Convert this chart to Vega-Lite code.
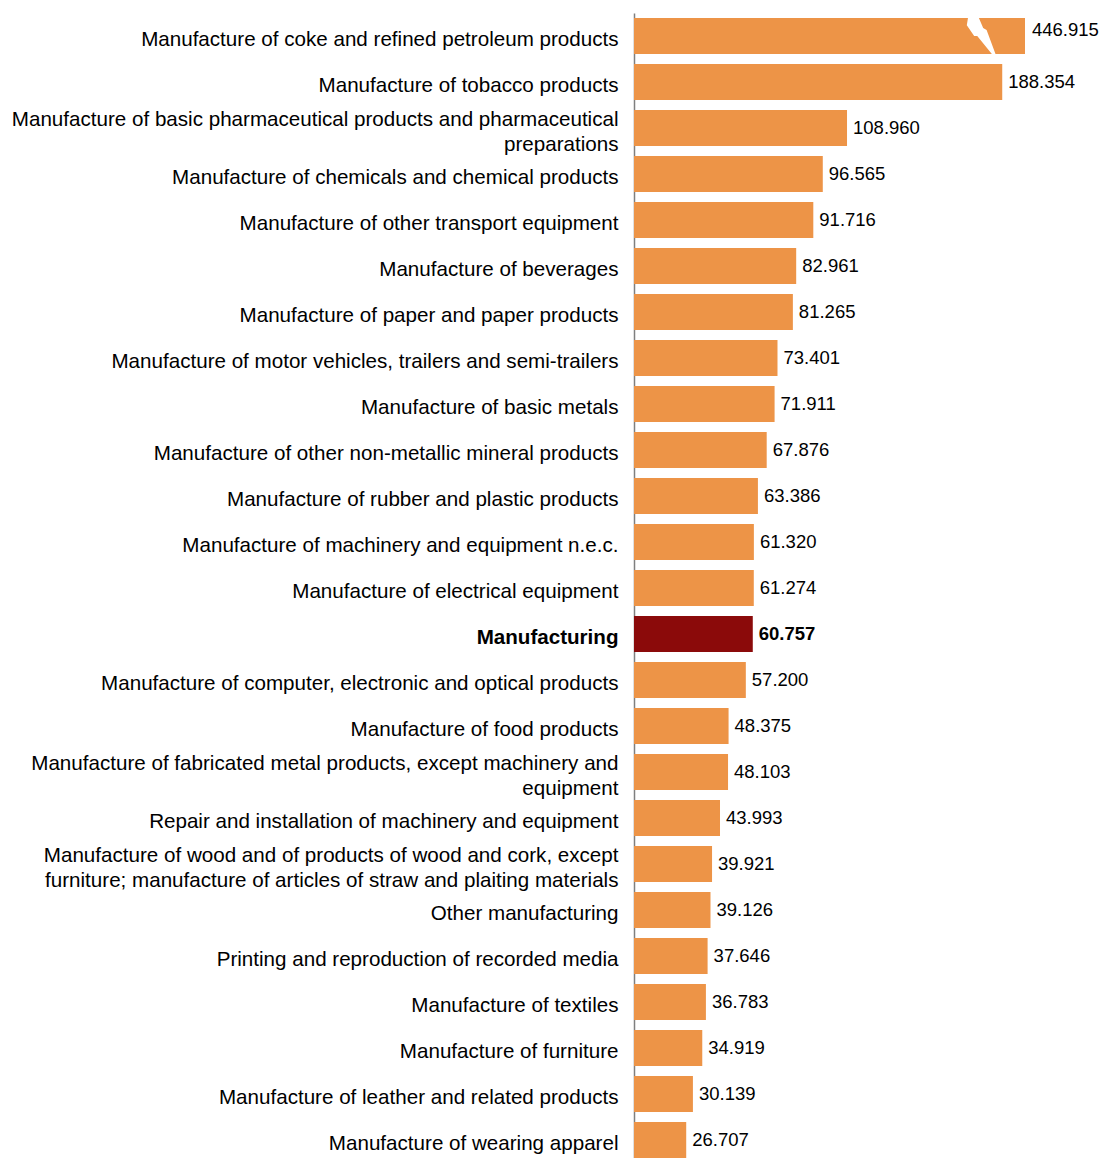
{
  "$schema": "https://vega.github.io/schema/vega-lite/v6.json",
  "autosize": {"type": "none"},
  "padding": {"left": 634, "top": 13, "right": 79, "bottom": 0},
  "width": 391,
  "height": 1150,
  "background": "white",
  "config": {"view": {"stroke": null}, "font": "Liberation Sans"},
  "data": {"values": [
    {"category": "Manufacture of coke and refined petroleum products", "value": 446.915},
    {"category": "Manufacture of tobacco products", "value": 188.354},
    {"category": "Manufacture of basic pharmaceutical products and pharmaceutical|preparations", "value": 108.960},
    {"category": "Manufacture of chemicals and chemical products", "value": 96.565},
    {"category": "Manufacture of other transport equipment", "value": 91.716},
    {"category": "Manufacture of beverages", "value": 82.961},
    {"category": "Manufacture of paper and paper products", "value": 81.265},
    {"category": "Manufacture of motor vehicles, trailers and semi-trailers", "value": 73.401},
    {"category": "Manufacture of basic metals", "value": 71.911},
    {"category": "Manufacture of other non-metallic mineral products", "value": 67.876},
    {"category": "Manufacture of rubber and plastic products", "value": 63.386},
    {"category": "Manufacture of machinery and equipment n.e.c.", "value": 61.320},
    {"category": "Manufacture of electrical equipment", "value": 61.274},
    {"category": "Manufacturing", "value": 60.757},
    {"category": "Manufacture of computer, electronic and optical products", "value": 57.200},
    {"category": "Manufacture of food products", "value": 48.375},
    {"category": "Manufacture of fabricated metal products, except machinery and|equipment", "value": 48.103},
    {"category": "Repair and installation of machinery and equipment", "value": 43.993},
    {"category": "Manufacture of wood and of products of wood and cork, except|furniture; manufacture of articles of straw and plaiting materials", "value": 39.921},
    {"category": "Other manufacturing", "value": 39.126},
    {"category": "Printing and reproduction of recorded media", "value": 37.646},
    {"category": "Manufacture of textiles", "value": 36.783},
    {"category": "Manufacture of furniture", "value": 34.919},
    {"category": "Manufacture of leather and related products", "value": 30.139},
    {"category": "Manufacture of wearing apparel", "value": 26.707}
  ]},
  "encoding": {
    "y": {
      "field": "category", "type": "nominal", "sort": null,
      "scale": {"paddingInner": 0.2174, "paddingOuter": 0.1087},
      "axis": {
        "title": null, "ticks": false, "labelPadding": 16,
        "labelFontSize": 20.6, "labelColor": "#000000", "labelLimit": 0,
        "labelLineHeight": 25,
        "labelExpr": "split(datum.value, '|')",
        "labelOffset": {"condition": {"test": "indexof(datum.value, '|') >= 0", "value": -8}, "value": 4},
        "labelFontWeight": {"condition": {"test": "datum.value == 'Manufacturing'", "value": "bold"}, "value": "normal"},
        "domainColor": "#7f7f7f", "domainWidth": 1.5
      }
    },
    "x": {
      "field": "value", "type": "quantitative",
      "scale": {"domain": [0, 200], "clamp": true, "nice": false},
      "axis": null
    }
  },
  "layer": [
    {
      "mark": {"type": "bar", "x": 1},
      "encoding": {
        "color": {
          "condition": {"test": "datum.category == 'Manufacturing'", "value": "#8B0A0A"},
          "value": "#ED9447"
        }
      }
    },
    {
      "transform": [{"filter": "datum.value > 200"}],
      "mark": {"type": "point", "filled": true, "color": "white", "opacity": 1, "size": 1296, "strokeWidth": 0,
        "shape": "M-0.72,-1.1 L-0.17,-1.1 L0.11,-0.44 L0.3,-0.33 L0.83,1.1 L0.67,1.1 L-0.22,0.0 L-0.39,0.0 L-0.8,-0.6 Z"},
      "encoding": {"x": {"datum": 177.6}}
    },
    {
      "transform": [{"filter": "datum.category != 'Manufacturing' && datum.value <= 200"}],
      "mark": {"type": "text", "align": "left", "baseline": "middle", "dx": 6, "fontSize": 18.5, "color": "#000000"},
      "encoding": {
        "text": {"field": "value", "type": "quantitative", "format": ".3f"}
      }
    },
    {
      "transform": [{"filter": "datum.value > 200"}],
      "mark": {"type": "text", "align": "left", "baseline": "middle", "dx": 7, "dy": -6, "fontSize": 18.5, "color": "#000000"},
      "encoding": {
        "text": {"field": "value", "type": "quantitative", "format": ".3f"}
      }
    },
    {
      "transform": [{"filter": "datum.category == 'Manufacturing'"}],
      "mark": {"type": "text", "align": "left", "baseline": "middle", "dx": 6, "fontSize": 18.5, "fontWeight": "bold", "color": "#000000"},
      "encoding": {
        "text": {"field": "value", "type": "quantitative", "format": ".3f"}
      }
    }
  ]
}
